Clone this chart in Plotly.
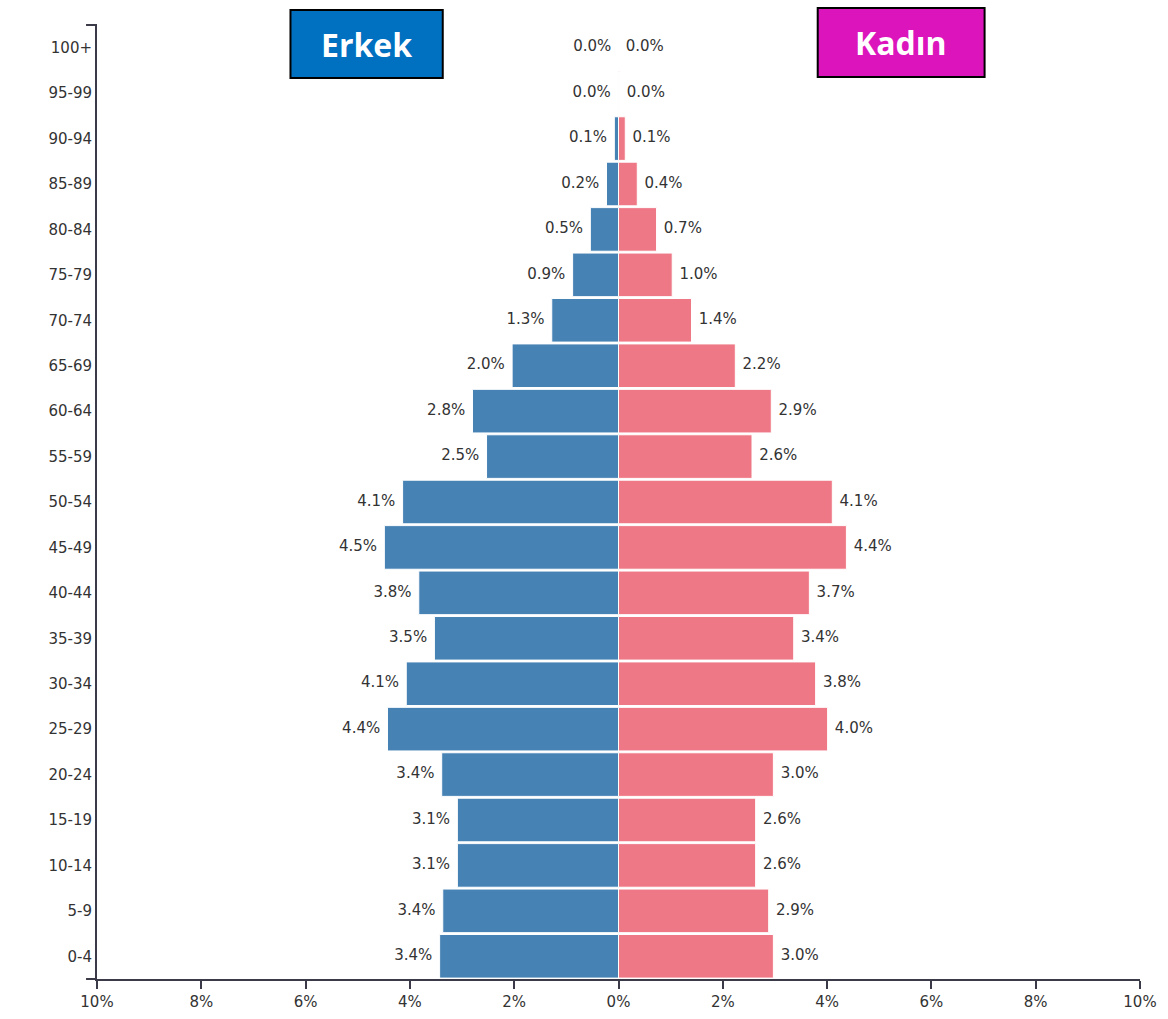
import plotly.graph_objects as go

# Yaş grupları (alttan üste)
ages = ["0-4", "5-9", "10-14", "15-19", "20-24", "25-29", "30-34", "35-39",
        "40-44", "45-49", "50-54", "55-59", "60-64", "65-69", "70-74",
        "75-79", "80-84", "85-89", "90-94", "95-99", "100+"]

# Nüfus yüzdeleri (%)
erkek = [3.43, 3.37, 3.09, 3.09, 3.39, 4.43, 4.07, 3.53, 3.83, 4.49, 4.14,
         2.53, 2.80, 2.04, 1.28, 0.88, 0.54, 0.23, 0.08, 0.01, 0.0]
kadin = [2.97, 2.88, 2.63, 2.63, 2.97, 4.01, 3.78, 3.36, 3.66, 4.37, 4.10,
         2.56, 2.93, 2.24, 1.40, 1.03, 0.73, 0.36, 0.13, 0.02, 0.0]

x_ticks = [-10, -8, -6, -4, -2, 0, 2, 4, 6, 8, 10]

axis_color = "#3a3a48"
text_color = "#333333"
font_family = "DejaVu Sans"
fs = 15

fig = go.Figure()

# Barlar
fig.add_trace(go.Bar(
    y=ages, x=[-v for v in erkek], orientation="h",
    marker=dict(color="#4682B4", line=dict(color="white", width=1)),
    hoverinfo="skip", showlegend=False
))
fig.add_trace(go.Bar(
    y=ages, x=kadin, orientation="h",
    marker=dict(color="#EF7886", line=dict(color="white", width=1)),
    hoverinfo="skip", showlegend=False
))

# Yüzde etiketleri (görünmez marker ile bar ucundan boşluk)
for vals, sign, pos in [(erkek, -1, "middle left"), (kadin, 1, "middle right")]:
    fig.add_trace(go.Scatter(
        y=ages, x=[sign * v for v in vals], mode="markers+text",
        marker=dict(size=10, color="rgba(0,0,0,0)"),
        text=[f"{v:.1f}%" for v in vals], textposition=pos,
        textfont=dict(size=fs, color=text_color, family=font_family),
        hoverinfo="skip", showlegend=False, cliponaxis=False
    ))

# Erkek / Kadın kutuları
boxes = [
    ("Erkek", "#0070C0", -6.29, -3.37, 0.9444, 1.0157),
    ("Kadın", "#DC14BC", 3.82, 7.02, 0.9455, 1.0178),
]
for label, color, x0, x1, y0, y1 in boxes:
    fig.add_shape(type="rect", xref="x", yref="paper",
                  x0=x0, x1=x1, y0=y0, y1=y1,
                  fillcolor=color, line=dict(color="black", width=2))
    fig.add_annotation(xref="x", yref="paper", x=(x0 + x1) / 2, y=(y0 + y1) / 2,
                       xanchor="center", yanchor="middle",
                       text=f"<b>{label}</b>", showarrow=False,
                       font=dict(size=32, color="white", family="Open Sans"))

# d3 tarzı dış tikler
fig.add_shape(type="line", xref="paper", yref="paper", x0=-0.0105, x1=0, y0=1, y1=1,
              line=dict(color=axis_color, width=2))
fig.add_shape(type="line", xref="paper", yref="paper", x0=-0.0105, x1=0, y0=0, y1=0,
              line=dict(color=axis_color, width=2))

fig.update_layout(
    width=1168, height=1019,
    margin=dict(l=97, r=28, t=25, b=40, autoexpand=False),
    barmode="relative", bargap=0.04,
    plot_bgcolor="white", paper_bgcolor="white",
    font=dict(family=font_family, size=fs, color=text_color),
    xaxis=dict(
        range=[-10, 10], tickvals=x_ticks,
        ticktext=[f"{abs(t)}%" for t in x_ticks],
        showline=True, linecolor=axis_color, linewidth=2,
        ticks="outside", ticklen=8, tickwidth=2, tickcolor=axis_color,
        showgrid=False, zeroline=False, fixedrange=True, automargin=False,
        tickfont=dict(size=fs, color=text_color),
    ),
    yaxis=dict(
        range=[-0.5, 20.5],
        showline=True, linecolor=axis_color, linewidth=2,
        ticks="", ticklabelstandoff=0, automargin=False,
        showgrid=False, zeroline=False, fixedrange=True,
        tickfont=dict(size=fs, color=text_color),
    ),
)

fig.write_html("out.html", config={"displayModeBar": False},
               post_script="document.body.style.margin='0';")
